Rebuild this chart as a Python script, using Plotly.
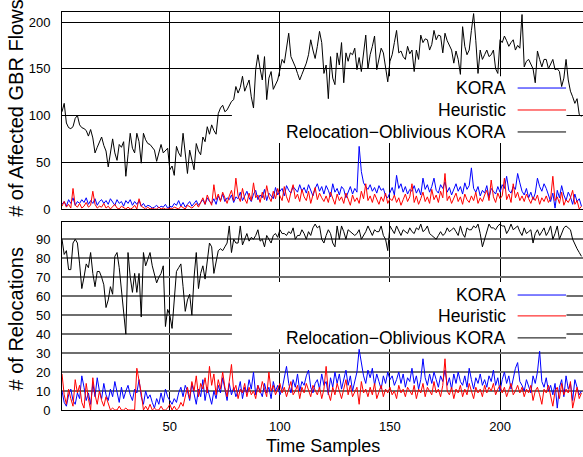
import plotly.graph_objects as go

# ---------------- data ----------------
kora_flows = [
    5, 8, 3, 10, 6, 12, 4, 8, 6, 10,
    7, 12, 5, 9, 6, 11, 4, 8, 10, 6,
    9, 5, 11, 7, 4, 10, 6, 8, 3, 9,
    6, 10, 4, 8, 5, 9, 3, 6, 2, 4,
    3, 1, 2, 4, 1, 3, 2, 5, 1, 3,
    2, 6, 4, 9, 3, 7, 2, 5, 8, 3,
    6, 9, 4, 7, 10, 5, 12, 8, 6, 11,
    5, 14, 9, 16, 8, 12, 10, 15, 7, 13,
    11, 18, 9, 14, 19, 12, 8, 16, 20, 10,
    15, 12, 21, 9, 17, 14, 11, 23, 15, 19,
    22, 14, 25, 20, 17, 24, 21, 18, 26, 19,
    23, 17, 26, 20, 14, 22, 27, 19, 24, 16,
    25, 20, 13, 27, 18, 22, 15, 24, 21, 12,
    19, 24, 16, 22, 18, 67, 40, 28, 24, 21,
    26, 19, 23, 17, 25, 20, 22, 14, 12, 18,
    23, 15, 36, 22, 27, 18, 24, 16, 21, 19,
    25, 17, 22, 15, 33, 21, 26, 18, 24, 33,
    20, 17, 26, 22, 29, 18, 23, 15, 21, 27,
    19, 24, 16, 28, 21, 25, 44, 22, 18, 24,
    14, 20, 17, 25, 12, 22, 19, 16, 24, 18,
    26, 22, 35, 20, 17, 24, 21, 38, 28, 19,
    15, 22, 12, 18, 10, 17, 33, 24, 19, 27,
    22, 14, 8, 17, 1, 20, 12, 25, 15, 9,
    18, 13, 5, 16, 8, 11, 3,
]
heur_flows = [
    3, 8, 2, 5, 1, 22, 4, 2, 6, 1,
    3, 7, 2, 4, 19, 5, 1, 3, 2, 6,
    1, 3, 0, 2, 5, 1, 0, 3, 1, 0,
    2, 0, 1, 4, 0, 11, 3, 1, 0, 2,
    0, 1, 0, 0, 2, 0, 1, 0, 0, 1,
    0, 2, 1, 0, 3, 1, 0, 4, 2, 1,
    3, 6, 2, 8, 12, 5, 15, 9, 4, 26,
    10, 16, 8, 18, 12, 6, 14, 20, 9, 33,
    14, 8, 22, 11, 6, 17, 9, 28, 12, 15,
    7, 18, 10, 25, 13, 8, 19, 11, 22, 14,
    9, 24, 13, 7, 18, 26, 11, 16, 8, 21,
    13, 9, 19, 6, 15, 23, 10, 17, 12, 8,
    14, 7, 18, 11, 5, 16, 9, 13, 6, 17,
    10, 4, 15, 8, 12, 6, 19, 11, 27, 9,
    14, 7, 16, 10, 5, 13, 8, 17, 6, 11,
    9, 15, 7, 12, 4, 10, 16, 8, 13, 27,
    7, 14, 5, 11, 18, 8, 13, 6, 21, 10,
    15, 7, 19, 12, 38, 9, 14, 6, 11, 17,
    8, 13, 5, 16, 10, 7, 14, 9, 18, 6,
    12, 8, 15, 20, 9, 31, 13, 7, 17, 11,
    14, 33, 10, 16, 7, 27, 12, 18, 9, 14,
    8, 16, 11, 6, 13, 9, 15, 5, 12, 8,
    14, 7, 11, 35, 9, 13, 6, 18, 4, 10,
    7, 12, 20, 5, 9, 0, 3,
]
rok_flows = [
    104, 113, 92, 87, 86, 88, 97, 100, 90, 87,
    86, 84, 78, 85, 76, 60, 66, 72, 77, 68,
    62, 45, 58, 75, 60, 52, 69, 66, 72, 35,
    58, 81, 65, 60, 81, 72, 49, 81, 74, 70,
    69, 66, 63, 51, 60, 69, 60, 62, 65, 42,
    46, 36, 67, 60, 56, 81, 62, 38, 63, 52,
    42, 70, 62, 58, 77, 72, 88, 80, 90, 84,
    80, 102, 108, 111, 104, 106, 110, 115, 117, 131,
    124, 130, 142, 126, 132, 138, 120, 108, 149, 165,
    150, 138, 163, 117, 140, 147, 128, 134, 138, 149,
    160, 156, 170, 188, 163, 158, 152, 145, 138, 144,
    150, 156, 165, 181, 170, 161, 174, 190, 178, 145,
    154, 118, 163, 140, 133, 167, 154, 178, 135, 167,
    158, 167, 165, 172, 149, 162, 147, 170, 186, 150,
    165, 174, 185, 149, 160, 172, 167, 150, 136, 158,
    165, 178, 191, 167, 169, 163, 160, 174, 166, 170,
    147, 170, 160, 186, 178, 182, 181, 170, 176, 191,
    181, 186, 185, 167, 188, 180, 174, 170, 156, 169,
    160, 144, 195, 174, 165, 170, 191, 209, 180, 145,
    170, 160, 165, 170, 163, 165, 170, 150, 145, 181,
    178, 185, 180, 174, 178, 181, 170, 175, 172, 208,
    152, 158, 160, 155, 150, 135, 169, 160, 152, 160,
    160, 150, 155, 160, 149, 150, 147, 131, 140, 160,
    138, 126, 120, 113, 118, 101, 99,
]
kora_reloc = [
    10, 4, 2, 8, 11, 5, 3, 9, 6, 18,
    12, 5, 9, 3, 14, 7, 17, 10, 6, 14,
    8, 5, 11, 7, 15, 9, 4, 12, 6, 10,
    13, 8, 5, 11, 9, 16, 7, 3, 10, 6,
    8, 4, 1, 6, 3, 9, 4, 11, 7, 5,
    3, 6, 4, 9, 12, 7, 13, 10, 5, 14,
    9, 3, 11, 7, 16, 5, 12, 8, 3, 10,
    6, 13, 9, 17, 11, 5, 14, 8, 12, 7,
    10, 15, 6, 12, 9, 16, 11, 20, 8, 13,
    10, 7, 14, 9, 12, 6, 15, 10, 13, 8,
    11, 17, 23, 14, 9, 16, 12, 19, 10, 15,
    13, 18, 21, 12, 9, 14, 16, 11, 19, 13,
    15, 8, 17, 12, 20, 14, 19, 11, 16, 21,
    13, 18, 10, 15, 20, 32, 25, 18, 14, 21,
    17, 22, 13, 19, 15, 11, 18, 14, 20, 16,
    18, 13, 16, 20, 14, 19, 12, 17, 15, 22,
    14, 18, 11, 16, 27, 17, 13, 19, 14, 20,
    16, 12, 18, 15, 21, 13, 17, 11, 19, 14,
    20, 15, 13, 18, 12, 22, 16, 11, 17, 14,
    19, 13, 16, 12, 18, 15, 21, 13, 17, 10,
    16, 20, 14, 18, 11, 17, 22, 25, 15, 13,
    10, 16, 12, 9, 18, 14, 20, 31, 15, 12,
    17, 10, 13, 8, 14, 1, 12, 16, 7, 18,
    11, 14, 5, 16, 12, 8, 10,
]
heur_reloc = [
    19, 8, 3, 11, 6, 2, 16, 9, 13, 4,
    1, 14, 6, 0, 17, 8, 3, 10, 5, 2,
    7, 3, 0, 1, 0, 0, 2, 0, 0, 1,
    0, 0, 0, 0, 22, 16, 9, 0, 2, 0,
    3, 0, 1, 0, 0, 2, 0, 0, 1, 3,
    0, 2, 0, 1, 4, 2, 8, 12, 6, 15,
    10, 18, 7, 14, 11, 17, 9, 23, 13, 19,
    8, 16, 11, 20, 12, 7, 15, 24, 10, 13,
    6, 11, 9, 14, 7, 12, 8, 10, 6, 13,
    9, 15, 11, 7, 20, 10, 13, 8, 11, 14,
    9, 12, 7, 11, 15, 8, 10, 13, 6, 12,
    9, 14, 11, 7, 13, 10, 8, 12, 6, 11,
    23, 9, 5, 12, 8, 14, 10, 6, 11, 16,
    8, 13, 7, 10, 12, 3, 15, 9, 11, 7,
    12, 8, 14, 6, 10, 13, 7, 11, 9, 12,
    8, 10, 6, 13, 9, 11, 7, 12, 10, 8,
    13, 6, 11, 9, 14, 7, 12, 10, 8, 15,
    9, 11, 7, 13, 27, 10, 8, 12, 6, 11,
    9, 13, 7, 11, 8, 14, 10, 6, 12, 9,
    11, 7, 13, 9, 12, 10, 14, 8, 11, 13,
    9, 12, 7, 11, 14, 8, 10, 13, 9, 12,
    7, 11, 9, 13, 5, 10, 12, 8, 3, 11,
    9, 13, 7, 2, 10, 12, 6, 14, 8, 11,
    9, 15, 1, 7, 12, 6, 9,
]
rok_reloc = [
    90, 82, 84, 74, 74, 88, 90, 88, 77, 64,
    70, 77, 75, 83, 72, 65, 73, 73, 70, 66,
    54, 58, 65, 61, 81, 83, 75, 62, 52, 40,
    83, 70, 62, 72, 62, 72, 49, 83, 76, 80,
    83, 76, 72, 67, 70, 72, 76, 44, 53, 50,
    43, 60, 73, 75, 77, 65, 52, 58, 61, 50,
    70, 83, 64, 72, 76, 69, 80, 88, 86, 72,
    78, 84, 85, 84, 86, 88, 97, 83, 90, 88,
    88, 97, 87, 90, 93, 89, 91, 90, 92, 95,
    89, 90, 86, 92, 90, 88, 92, 93, 91, 95,
    93, 93, 92, 94, 93, 96, 90, 92, 92, 95,
    93, 90, 94, 92, 96, 98, 96, 97, 90, 88,
    92, 95, 93, 88, 86, 97, 90, 97, 94, 90,
    95, 94, 93, 92, 93, 95, 90, 92, 94, 97,
    94, 92, 95, 94, 94, 97, 92, 90, 84, 97,
    95, 93, 97, 94, 92, 95, 94, 93, 96, 94,
    93, 96, 95, 98, 94, 95, 97, 93, 92, 91,
    90, 92, 94, 92, 93, 96, 94, 95, 96, 94,
    92, 97, 93, 91, 96, 95, 95, 97, 96, 98,
    93, 86, 90, 93, 98, 96, 96, 95, 97, 98,
    97, 97, 93, 95, 98, 95, 96, 97, 94, 92,
    96, 93, 94, 95, 88, 93, 95, 92, 94, 96,
    92, 94, 97, 90, 93, 97, 90, 93, 96, 97,
    96, 95, 90, 87, 85, 83, 81,
]

series_names = ["KORA", "Heuristic", "Relocation\u2212Oblivious KORA"]
series_colors = ["#0000ff", "#ff0000", "#000000"]
x_tick_vals = [50, 100, 150, 200]
flow_tick_vals = [0, 50, 100, 150, 200]
reloc_tick_vals = [0, 10, 20, 30, 40, 50, 60, 70, 80, 90]
x_title = "Time Samples"
flow_title = "# of Affected GBR Flows"
reloc_title = "# of Relocations"

FONT = "Liberation Sans, Arial, Helvetica, sans-serif"

fig = go.Figure()
for name, ys, col in zip(series_names, [kora_flows, heur_flows, rok_flows], series_colors):
    fig.add_trace(go.Scatter(x=list(range(1, len(ys) + 1)), y=ys, mode="lines",
                             line=dict(color=col, width=1), name=name,
                             xaxis="x", yaxis="y", showlegend=False))
for name, ys, col in zip(series_names, [kora_reloc, heur_reloc, rok_reloc], series_colors):
    fig.add_trace(go.Scatter(x=list(range(1, len(ys) + 1)), y=ys, mode="lines",
                             line=dict(color=col, width=1), name=name,
                             xaxis="x2", yaxis="y2", showlegend=False))

XR = [1, 237.7]
common_x = dict(range=XR, tickvals=x_tick_vals, showgrid=True, gridcolor="#000000",
                gridwidth=1, showline=True, linecolor="#000000", linewidth=1,
                mirror=True, zeroline=False, ticks="", automargin=False,
                tickfont=dict(family=FONT, size=13, color="#000"))
common_y = dict(showgrid=True, showline=True, linecolor="#000000", linewidth=1,
                zeroline=False, ticks="", automargin=False, ticklabelstandoff=8,
                tickfont=dict(family=FONT, size=13, color="#000"))

fig.update_layout(
    template="none",
    width=583, height=457,
    margin=dict(l=62, r=0, t=12, b=47),
    paper_bgcolor="white", plot_bgcolor="white",
    font=dict(family=FONT, color="#000"),
    showlegend=False,
    xaxis=dict(domain=[0, 1], anchor="y", showticklabels=False, **common_x),
    yaxis=dict(domain=[0.505, 1], anchor="x", range=[0, 210.7],
               tickvals=flow_tick_vals, gridcolor="#000000", gridwidth=1, **common_y),
    xaxis2=dict(domain=[0, 1], anchor="y2", matches="x", ticklabelstandoff=4, **common_x),
    yaxis2=dict(domain=[0, 0.4724], anchor="x2", range=[0, 99.1],
                tickvals=reloc_tick_vals, gridcolor="#6e6e6e", gridwidth=1.6, **common_y),
)

# white key boxes that break the grid (drawn between grid and traces)
shapes = [
    dict(type="rect", xref="x", yref="y", x0=78.2, x1=230.2, y0=70.6, y1=142,
         fillcolor="white", line=dict(width=0), layer="between"),
    dict(type="rect", xref="x2", yref="y2", x0=78.2, x1=230.2, y0=32, y1=67.5,
         fillcolor="white", line=dict(width=0), layer="between"),
]
annotations = []
key_rows_top = [129.4, 105.9, 82.4]
key_rows_bot = [60.6, 49.6, 38.0]
for (xr, yr, rows) in [("x", "y", key_rows_top), ("x2", "y2", key_rows_bot)]:
    for name, col, yv in zip(series_names, series_colors, rows):
        annotations.append(dict(xref=xr, yref=yr, x=203.5, y=yv, text=name,
                                showarrow=False, xanchor="right", yanchor="middle",
                                font=dict(family=FONT, size=17.5, color="#000")))
        shapes.append(dict(type="line", xref=xr, yref=yr, x0=208, x1=230, y0=yv, y1=yv,
                           line=dict(color=col, width=1), layer="above"))

# axis titles
annotations.append(dict(xref="paper", yref="paper", x=-0.0873, y=0.758,
                        text=flow_title, textangle=-90, showarrow=False,
                        xanchor="center", yanchor="middle",
                        font=dict(family=FONT, size=20, color="#000")))
annotations.append(dict(xref="paper", yref="paper", x=-0.0873, y=0.2286,
                        text=reloc_title, textangle=-90, showarrow=False,
                        xanchor="center", yanchor="middle",
                        font=dict(family=FONT, size=20, color="#000")))
annotations.append(dict(xref="paper", yref="paper", x=0.5, y=-0.0905,
                        text=x_title, showarrow=False, xanchor="center", yanchor="middle",
                        font=dict(family=FONT, size=18, color="#000")))

fig.update_layout(shapes=shapes, annotations=annotations)
fig.write_html("out.html", config={"displayModeBar": False},
               post_script="document.body.style.margin='0';document.body.style.overflow='hidden';")
